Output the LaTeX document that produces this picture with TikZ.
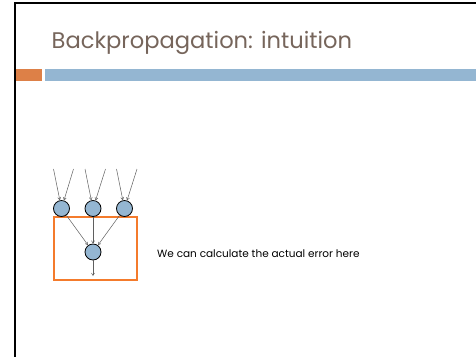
\documentclass[tikz,border=0pt]{standalone}
\usepackage{fontspec}
\setmainfont{Poppins}
\usetikzlibrary{arrows.meta, positioning}
\definecolor{bptitle}{HTML}{76655B}
\definecolor{bporange}{HTML}{DD8047}
\definecolor{bpblue}{HTML}{94B6D2}
\definecolor{bpbox}{HTML}{F47B2C}
\definecolor{bpline}{HTML}{5F5F5F}

\begin{document}
\begin{tikzpicture}[
  x=1pt, y=-1pt,
  unit/.style={circle, draw=black, line width=0.8pt, fill=bpblue, minimum size=16pt, inner sep=0pt},
  wire/.style={draw=bpline, line width=0.5pt, -{Straight Barb[length=2.5pt, width=3pt]}},
]
\useasboundingbox (0,0) rectangle (476,357);
\fill[white] (0,0) rectangle (476,357);

% slide frame and header bars
\draw[line width=1.6pt, black] (476,3) -- (15,3) -- (15,357);
\fill[bporange] (16,69) rectangle (42,81);
\fill[bpblue] (45,69) rectangle (476,81);
\node[anchor=base west, inner sep=0pt, text=bptitle, font=\fontsize{22.6}{27}\selectfont] (title) at (51.5,48) {Backpropagation: intuition};

% output layer box
\draw[bpbox, line width=1.3pt] (54,217) rectangle (137,280);

% units
\node[unit] (h1) at (61.5,208.5) {};
\node[unit] (h2) at (93,208.5) {};
\node[unit] (h3) at (124.5,208.5) {};
\node[unit] (out) at (93,252) {};

% inputs
\coordinate (i1a) at (53.5,169);
\coordinate (i1b) at (73.5,169);
\coordinate (i2a) at (85,169);
\coordinate (i2b) at (105.5,169);
\coordinate (i3a) at (116.5,169);
\coordinate (i3b) at (137,169);
\coordinate (res) at (93,276);

\draw[wire] (i1a) -- (h1);
\draw[wire] (i1b) -- (h1);
\draw[wire] (i2a) -- (h2);
\draw[wire] (i2b) -- (h2);
\draw[wire] (i3a) -- (h3);
\draw[wire] (i3b) -- (h3);
\foreach \h in {h1,h2,h3}
  \draw[wire] (\h) -- (out);
\draw[wire] (out) -- (res);

\node[anchor=base west, inner sep=0pt, font=\fontsize{10.5}{13}\selectfont] (note) at (157,257) {We can calculate the actual error here};

\end{tikzpicture}
\end{document}
